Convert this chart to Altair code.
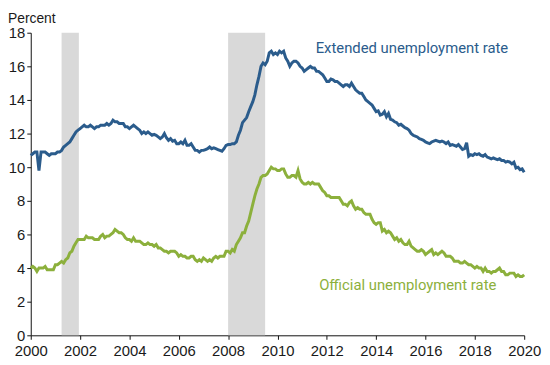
import altair as alt
import pandas as pd

# ---- data (monthly, Jan 2000 .. Jan 2020) ----
years = list(range(2000, 2020))
extended = [
    10.7, 10.8, 10.9, 10.9, 9.8, 10.9, 10.9, 10.9, 10.8, 10.7, 10.8, 10.8,   # 2000
    10.8, 10.9, 10.9, 11.0, 11.2, 11.3, 11.4, 11.5, 11.7, 11.9, 12.1, 12.2,  # 2001
    12.3, 12.4, 12.5, 12.4, 12.4, 12.5, 12.4, 12.3, 12.4, 12.4, 12.5, 12.5,  # 2002
    12.5, 12.6, 12.5, 12.6, 12.8, 12.7, 12.7, 12.6, 12.6, 12.6, 12.4, 12.4,  # 2003
    12.3, 12.4, 12.5, 12.4, 12.3, 12.2, 12.0, 12.1, 12.0, 12.1, 12.0, 11.9,  # 2004
    11.95, 11.9, 11.8, 11.7, 11.8, 12.0, 11.75, 11.6, 11.7, 11.55, 11.6, 11.4,  # 2005
    11.4, 11.5, 11.4, 11.6, 11.3, 11.3, 11.4, 11.2, 11.0, 11.0, 10.9, 11.0,  # 2006
    11.0, 11.05, 11.1, 11.2, 11.1, 11.15, 11.1, 11.05, 11.0, 10.95, 11.1, 11.3,  # 2007
    11.35, 11.35, 11.4, 11.4, 11.5, 11.9, 12.2, 12.65, 12.8, 12.95, 13.3, 13.6,  # 2008
    13.9, 14.3, 14.9, 15.4, 16.0, 16.2, 16.1, 16.3, 16.8, 16.9, 16.7, 16.8,  # 2009
    16.7, 16.9, 16.8, 16.9, 16.5, 16.3, 16.0, 16.2, 16.3, 16.3, 16.2, 16.0,  # 2010
    15.9, 15.7, 15.8, 15.9, 16.0, 15.9, 15.9, 15.7, 15.7, 15.6, 15.5, 15.3,  # 2011
    15.1, 15.1, 15.25, 15.2, 15.1, 15.1, 15.0, 14.9, 14.8, 14.9, 14.9, 14.8,  # 2012
    15.0, 14.8, 14.6, 14.5, 14.4, 14.4, 14.2, 14.0, 13.9, 13.8, 13.7, 13.5,  # 2013
    13.3, 13.35, 13.1, 13.15, 13.3, 13.0, 13.2, 12.85, 12.8, 12.7, 12.65, 12.5,  # 2014
    12.55, 12.45, 12.35, 12.3, 12.2, 12.0, 11.9, 11.85, 11.8, 11.7, 11.65, 11.6,  # 2015
    11.5, 11.45, 11.4, 11.5, 11.55, 11.6, 11.55, 11.5, 11.55, 11.5, 11.4, 11.5,  # 2016
    11.3, 11.35, 11.3, 11.25, 11.35, 11.2, 11.05, 11.1, 11.45, 10.65, 10.75, 10.7,  # 2017
    10.8, 10.75, 10.8, 10.7, 10.65, 10.75, 10.6, 10.55, 10.5, 10.55, 10.5, 10.45,  # 2018
    10.5, 10.4, 10.4, 10.3, 10.35, 10.3, 10.2, 10.3, 9.95, 10.0, 9.85, 9.9,  # 2019
    9.7,  # Jan 2020
]
official = [
    4.0, 4.1, 4.0, 3.8, 4.0, 4.0, 4.0, 4.1, 3.9, 3.9, 3.9, 3.9,  # 2000
    4.2, 4.2, 4.3, 4.4, 4.3, 4.5, 4.6, 4.9, 5.0, 5.3, 5.5, 5.7,  # 2001
    5.7, 5.7, 5.7, 5.9, 5.8, 5.8, 5.8, 5.7, 5.7, 5.7, 5.9, 6.0,  # 2002
    5.8, 5.9, 5.9, 6.0, 6.1, 6.3, 6.2, 6.1, 6.1, 6.0, 5.8, 5.7,  # 2003
    5.7, 5.6, 5.8, 5.6, 5.6, 5.6, 5.5, 5.4, 5.4, 5.5, 5.4, 5.4,  # 2004
    5.3, 5.4, 5.2, 5.2, 5.1, 5.0, 5.0, 4.9, 5.0, 5.0, 5.0, 4.9,  # 2005
    4.7, 4.8, 4.7, 4.7, 4.6, 4.6, 4.7, 4.7, 4.5, 4.4, 4.5, 4.4,  # 2006
    4.6, 4.5, 4.4, 4.5, 4.4, 4.6, 4.7, 4.6, 4.7, 4.7, 4.7, 5.0,  # 2007
    5.0, 4.9, 5.1, 5.0, 5.4, 5.6, 5.8, 6.1, 6.1, 6.5, 6.8, 7.3,  # 2008
    7.8, 8.3, 8.7, 9.0, 9.4, 9.5, 9.5, 9.6, 9.8, 10.0, 9.9, 9.9,  # 2009
    9.8, 9.8, 9.9, 9.9, 9.6, 9.4, 9.4, 9.5, 9.5, 9.4, 9.8, 9.3,  # 2010
    9.1, 9.0, 9.0, 9.1, 9.0, 9.1, 9.0, 9.0, 9.0, 8.8, 8.6, 8.5,  # 2011
    8.3, 8.3, 8.2, 8.2, 8.2, 8.2, 8.2, 8.0, 7.8, 7.8, 7.7, 7.9,  # 2012
    8.0, 7.7, 7.5, 7.6, 7.5, 7.5, 7.3, 7.2, 7.2, 7.2, 6.9, 6.7,  # 2013
    6.6, 6.7, 6.7, 6.2, 6.3, 6.1, 6.2, 6.1, 5.9, 5.7, 5.8, 5.6,  # 2014
    5.7, 5.5, 5.4, 5.4, 5.6, 5.3, 5.2, 5.1, 5.0, 5.0, 5.1, 5.0,  # 2015
    4.8, 4.9, 5.0, 5.1, 4.8, 4.9, 4.8, 4.9, 5.0, 4.9, 4.7, 4.7,  # 2016
    4.7, 4.6, 4.4, 4.4, 4.4, 4.3, 4.3, 4.4, 4.3, 4.2, 4.2, 4.1,  # 2017
    4.0, 4.1, 4.0, 4.0, 3.8, 4.0, 3.8, 3.8, 3.7, 3.8, 3.8, 3.9,  # 2018
    4.0, 3.8, 3.8, 3.6, 3.6, 3.7, 3.7, 3.7, 3.5, 3.6, 3.5, 3.5,  # 2019
    3.6,  # Jan 2020
]
recession_start = [2001.25, 2008.0]
recession_end = [2001.95, 2009.5]
x_ticks = list(range(2000, 2021, 2))
y_ticks = list(range(0, 19, 2))
series_names = ["Extended unemployment rate", "Official unemployment rate"]
series_colors = ["#2b5c8c", "#8cb03c"]

# ---- tables ----
t = [y + m / 12 for y in years for m in range(12)] + [2020.0]
lines_df = pd.concat([
    pd.DataFrame({"t": t, "v": extended, "s": series_names[0]}),
    pd.DataFrame({"t": t, "v": official, "s": series_names[1]}),
])
rec_df = pd.DataFrame({"a": recession_start, "b": recession_end, "lo": 0, "hi": 18})
lab_df = pd.DataFrame({
    "t": [2015.45, 2015.28],
    "v": [17.1, 2.97],
    "s": series_names,
})

axis_common = dict(
    grid=False, domainColor="#111111", tickColor="#111111", tickSize=4,
    labelFont="Liberation Sans", labelFontSize=15, labelColor="#1a1a1a",
    labelOverlap=False, labelFlush=False, labelBound=False, title=None,
)
xscale = alt.Scale(domain=[2000, 2020], nice=False, zero=False)
yscale = alt.Scale(domain=[0, 18], nice=False)
xaxis = alt.Axis(values=x_ticks, format="d", labelPadding=4, **axis_common)
yaxis = alt.Axis(values=y_ticks, format="d", labelPadding=2, **axis_common)
color = alt.Color("s:N", scale=alt.Scale(domain=series_names, range=series_colors), legend=None)

rects = alt.Chart(rec_df).mark_rect(color="#d9d9d9").encode(
    x=alt.X("a:Q", scale=xscale, axis=xaxis),
    x2="b:Q",
    y=alt.Y("lo:Q", scale=yscale, axis=yaxis),
    y2="hi:Q",
)

lines = alt.Chart(lines_df).mark_line(strokeWidth=3).encode(
    x=alt.X("t:Q", scale=xscale, axis=xaxis),
    y=alt.Y("v:Q", scale=yscale, axis=yaxis),
    color=color,
    order="t:Q",
)

labels = alt.Chart(lab_df).mark_text(
    font="Roboto", fontSize=15, align="center", baseline="middle"
).encode(
    x=alt.X("t:Q", scale=xscale, axis=xaxis),
    y=alt.Y("v:Q", scale=yscale, axis=yaxis),
    text="s:N",
    color=color,
)

ytitle = alt.Chart(pd.DataFrame({"txt": ["Percent"]})).mark_text(
    font="Liberation Sans", fontSize=14, align="left", baseline="middle", color="#1a1a1a"
).encode(x=alt.value(-23), y=alt.value(-14), text="txt:N")

chart = alt.layer(rects, lines, labels, ytitle).properties(
    width=499, height=306,
    padding={"left": 23, "top": 23, "right": 18, "bottom": 25},
    autosize=alt.AutoSizeParams(type="none"),
).configure_view(stroke=None)

chart.save("out.html", embed_options={"renderer": "svg", "actions": False})
